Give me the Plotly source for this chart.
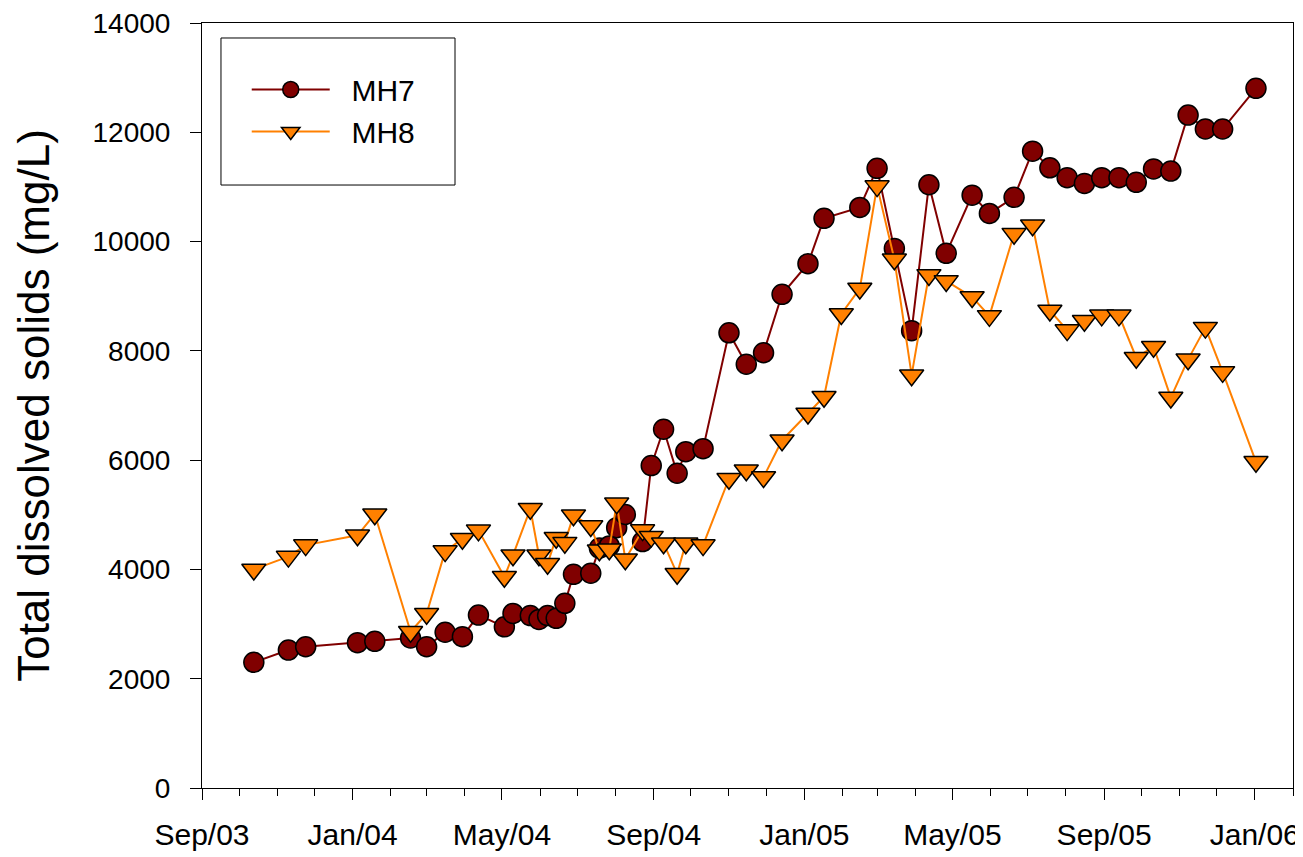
import plotly.graph_objects as go

dates = [
    "2003-10-13", "2003-11-10", "2003-11-24", "2004-01-05", "2004-01-19", "2004-02-17", "2004-03-01", "2004-03-16", "2004-03-30", "2004-04-12",
    "2004-05-03", "2004-05-10", "2004-05-24", "2004-05-31", "2004-06-07", "2004-06-14", "2004-06-21", "2004-06-28", "2004-07-12", "2004-07-19",
    "2004-07-27", "2004-08-02", "2004-08-09", "2004-08-23", "2004-08-30", "2004-09-09", "2004-09-20", "2004-09-27", "2004-10-11", "2004-11-01",
    "2004-11-15", "2004-11-29", "2004-12-14", "2005-01-04", "2005-01-17", "2005-01-31", "2005-02-15", "2005-03-01", "2005-03-15", "2005-03-29",
    "2005-04-12", "2005-04-26", "2005-05-17", "2005-05-31", "2005-06-20", "2005-07-05", "2005-07-19", "2005-08-02", "2005-08-16", "2005-08-30",
    "2005-09-13", "2005-09-27", "2005-10-11", "2005-10-25", "2005-11-08", "2005-11-22", "2005-12-06", "2006-01-02",
]

mh7 = [
    2300, 2525, 2585, 2660, 2685, 2745, 2585, 2850, 2770, 3165,
    2950, 3195, 3155, 3085, 3155, 3105, 3380, 3910, 3930, 4390,
    4430, 4765, 5005, 4510, 5900, 6565, 5760, 6155, 6210, 8330,
    7755, 7965, 9035, 9595, 10425, None, 10625, 11340, 9875, 8370,
    11040, 9785, 10850, 10515, 10810, 11655, 11350, 11170, 11065, 11170,
    11170, 11085, 11330, 11290, 12315, 12060, 12060, 12805,
]

mh8 = [
    4000, 4235, 4445, 4625, 5010, 2860, 3190, 4335, 4560, 4715,
    3865, 4260, 5110, 4260, 4105, 4580, 4490, 4990, 4795, 4350,
    4370, 5210, 4185, 4720, 4600, 4480, 3920, 4480, 4445, 5660,
    5815, 5690, 6365, 6855, 7160, 8675, 9140, 11015, 9675, 7555,
    9390, 9280, 8985, 8640, 10145, 10300, 8740, 8380, 8550, 8650,
    8650, 7875, 8075, 7145, 7845, 8425, 7615, 5970,
]

series_names = ["MH7", "MH8"]
y_ticks = [0, 2000, 4000, 6000, 8000, 10000, 12000, 14000]

FONT = "Liberation Sans, Arial, Helvetica, sans-serif"
NBSP = "\u00a0"

fig = go.Figure()
fig.add_trace(go.Scatter(
    x=dates, y=mh7, name=NBSP * 2 + series_names[0], mode="lines+markers", connectgaps=True,
    line=dict(color="#800000", width=2),
    marker=dict(symbol="circle", size=20, color="#800000", line=dict(color="black", width=1.5)),
))
fig.add_trace(go.Scatter(
    x=dates, y=mh8, name=NBSP * 2 + series_names[1], mode="lines+markers", connectgaps=True,
    line=dict(color="#ff8000", width=2),
    marker=dict(symbol="triangle-down", size=21, color="#ff8000", line=dict(color="black", width=1.5)),
))

# page body has an 8px default margin, so the figure is sized/offset to compensate
fig.update_layout(
    width=1295, height=849,
    margin=dict(l=194, r=10, t=15, b=69, autoexpand=False),
    paper_bgcolor="white", plot_bgcolor="white",
    font=dict(family=FONT, color="black", size=30),
    showlegend=True,
    legend=dict(
        x=0.041, y=0.947, xanchor="left", yanchor="top",
        bgcolor="rgba(0,0,0,0)", borderwidth=0,
        font=dict(size=30, family=FONT), itemwidth=78, tracegroupgap=0,
    ),
    shapes=[dict(
        type="rect", xref="paper", yref="paper",
        x0=0.0174, x1=0.2319, y0=0.7882, y1=0.9804,
        line=dict(color="black", width=1), fillcolor="rgba(0,0,0,0)", layer="below",
    )],
)

fig.update_xaxes(
    type="date", range=["2003-09-01", "2006-02-01"],
    tick0="2003-09-01", dtick="M4", tickformat="%b/%y",
    ticks="outside", ticklen=11, tickwidth=1, tickcolor="black",
    showline=True, linecolor="black", linewidth=1, mirror=True,
    showgrid=False, zeroline=False, ticklabeloverflow="allow",
    tickfont=dict(size=30, family=FONT), ticklabelstandoff=9,
    minor=dict(dtick="M1", tick0="2003-09-01", ticks="outside", ticklen=7,
               tickwidth=1, tickcolor="black", showgrid=False),
)
fig.update_yaxes(
    range=[0, 14000], tickvals=y_ticks, tickformat="d",
    ticks="outside", ticklen=11, tickwidth=1, tickcolor="black",
    showline=True, linecolor="black", linewidth=1, mirror=True,
    showgrid=False, zeroline=False, ticklabeloverflow="allow",
    tickfont=dict(size=28, family=FONT), ticklabelstandoff=14,
    title=dict(text="Total dissolved solids (mg/L)", font=dict(size=44, family=FONT), standoff=29),
)

fig.write_html("out.html")
